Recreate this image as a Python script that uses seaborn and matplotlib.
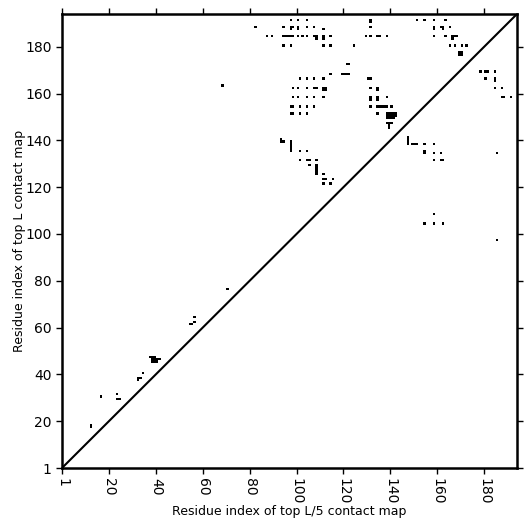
import numpy as np
import matplotlib
matplotlib.use("Agg")
import matplotlib.pyplot as plt
import seaborn as sns
from matplotlib.colors import ListedColormap

# Longitud de la secuencia (numero de residuos)
L = 194

# Contactos predichos por fila: valor en el eje y -> residuos en el eje x
row_y = [191, 190, 188, 187, 184, 183, 180, 177, 176, 172, 169, 168, 166, 165,
         162, 161, 158, 157, 154, 151, 150, 149, 147, 146, 145,
         141, 140, 139, 138, 137, 136, 135, 134, 131, 129, 128, 127, 126, 125,
         123, 121, 108, 104, 97,
         76, 64, 163, 62, 61, 47, 46, 45, 40, 38, 37, 31, 30, 29, 18, 17]
row_x = [
    [97, 100, 104, 131, 151, 154, 158, 163],
    [131],
    [82, 94, 97, 98, 100, 104, 107, 131, 158, 161, 162, 165],
    [97, 100, 111, 158, 162],
    [87, 89, 94, 95, 96, 97, 98, 100, 102, 104, 107, 108, 111, 114, 129, 131,
     134, 135, 138, 158, 163, 166, 167, 168],
    [108, 111, 166],
    [94, 97, 111, 114, 124, 165, 167, 170, 172],
    [169, 170],
    [169, 170],
    [121, 122],
    [178, 180, 181, 184],
    [114, 119, 120, 121, 122],
    [101, 104, 107, 111, 130, 131, 180, 184],
    [184],
    [98, 100, 104, 107, 108, 111, 112, 131, 134, 184, 187],
    [111, 112, 134],
    [98, 100, 104, 107, 111, 131, 134, 138, 187, 188, 191],
    [131, 134],
    [97, 98, 101, 104, 107, 131, 134, 135, 136, 137, 138, 140],
    [97, 98, 101, 104, 134, 138, 139, 140, 141, 142],
    [138, 139, 140, 141, 142],
    [138, 139, 140, 141],
    [138, 139, 140],
    [139],
    [139],
    [147],
    [93, 147],
    [93, 94, 97, 147],
    [97, 147, 149, 150, 151, 154, 158],
    [97],
    [97],
    [97, 101, 104, 154],
    [154, 158, 161, 185],
    [101, 104, 105, 108, 158, 161, 162],
    [105, 108],
    [108],
    [108],
    [108],
    [108, 111],
    [111, 112, 115],
    [111, 114],
    [158],
    [154, 158, 162],
    [185],
    [70],
    [56],
    [68],
    [56],
    [54, 55],
    [37, 38, 39],
    [38, 39, 40, 41],
    [38, 39, 40],
    [34],
    [32, 33],
    [32],
    [23],
    [16],
    [23, 24],
    [12],
    [12],
]

tick_pos = [0, 20, 40, 60, 80, 100, 120, 140, 160, 180]
tick_labels = ["1", "20", "40", "60", "80", "100", "120", "140", "160", "180"]

# Matriz de contactos
cmap_mat = np.zeros((L, L))
for y, xs in zip(row_y, row_x):
    for x in xs:
        cmap_mat[y, x] = 1

fig = plt.figure(figsize=(5.31, 5.31), dpi=100)
ax = fig.add_axes([62 / 531, 63 / 531, 455 / 531, 454 / 531])

sns.heatmap(cmap_mat, cmap=ListedColormap(["white", "black"]), cbar=False,
            ax=ax, xticklabels=False, yticklabels=False, vmin=0, vmax=1)
ax.set_xlim(0, L)
ax.set_ylim(0, L)

# Linea diagonal
ax.plot([0, L], [0, L], color="black", lw=1.5)

for s in ax.spines.values():
    s.set_visible(True)
    s.set_linewidth(1.8)
    s.set_color("black")

ax.set_xticks(tick_pos)
ax.set_xticklabels(tick_labels, rotation=270, fontsize=10)
ax.set_yticks(tick_pos)
ax.set_yticklabels(tick_labels, rotation=0, fontsize=10)
ax.tick_params(direction="out", length=4, width=1, top=True, right=True,
               labeltop=False, labelright=False)

ax.set_xlabel("Residue index of top L/5 contact map", fontsize=9, labelpad=0)
ax.set_ylabel("Residue index of top L contact map", fontsize=9, labelpad=-1)

fig.savefig("out.png", dpi=100)
